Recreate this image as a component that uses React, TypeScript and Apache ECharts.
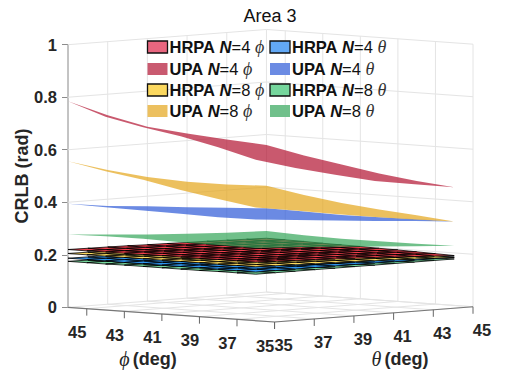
import React, { useEffect, useRef } from "react";
import * as echarts from "echarts";

const titleText = "Area 3";
const yAxisTitle = "CRLB (rad)";
const zTicks = [0, 0.2, 0.4, 0.6, 0.8, 1];
const phiTicks = [35, 37, 39, 41, 43, 45];
const thetaTicks = [35, 37, 39, 41, 43, 45];
const PHI_FAR = 46;

// rows: phi 46 -> 36 (step 2), columns: theta 35 -> 45 (step 2)
const upaRedPhi = [
  [0.785, 0.72, 0.664, 0.627, 0.593, 0.56],
  [0.7357, 0.69, 0.645, 0.605, 0.566, 0.53],
  [0.706, 0.66, 0.618, 0.58, 0.542, 0.506],
  [0.682, 0.635, 0.594, 0.555, 0.518, 0.482],
  [0.65, 0.605, 0.565, 0.53, 0.496, 0.464],
  [0.613, 0.57, 0.532, 0.497, 0.473, 0.45],
];
const upaYellowPhi = [
  [0.556, 0.511, 0.473, 0.443, 0.4215, 0.405],
  [0.528, 0.494, 0.458, 0.43, 0.405, 0.38],
  [0.506, 0.47, 0.438, 0.41, 0.385, 0.36],
  [0.477, 0.445, 0.416, 0.39, 0.367, 0.345],
  [0.453, 0.423, 0.396, 0.372, 0.352, 0.333],
  [0.431, 0.408, 0.383, 0.36, 0.339, 0.32],
];
const upaBlueTheta = [
  [0.394, 0.374, 0.362, 0.3465, 0.3325, 0.319],
  [0.391, 0.376, 0.36, 0.345, 0.331, 0.317],
  [0.389, 0.375, 0.358, 0.344, 0.33, 0.314],
  [0.387, 0.372, 0.357, 0.343, 0.33, 0.315],
  [0.384, 0.369, 0.356, 0.343, 0.33, 0.3176],
  [0.385, 0.372, 0.358, 0.345, 0.333, 0.32],
];
const upaGreenTheta = [
  [0.277, 0.2654, 0.254, 0.2449, 0.2372, 0.2323],
  [0.2805, 0.27, 0.258, 0.247, 0.236, 0.2266],
  [0.281, 0.269, 0.258, 0.247, 0.235, 0.2235],
  [0.2787, 0.268, 0.257, 0.246, 0.235, 0.2243],
  [0.2776, 0.267, 0.257, 0.246, 0.235, 0.225],
  [0.2765, 0.268, 0.258, 0.248, 0.237, 0.227],
];
// rows: phi 46 -> 36 (step 1), columns: theta 35 -> 45 (step 1)
const hrpaRedPhi = [
  [0.22, 0.219, 0.218, 0.217, 0.215, 0.214, 0.212, 0.211, 0.209, 0.207, 0.205],
  [0.22, 0.219, 0.218, 0.216, 0.215, 0.213, 0.212, 0.21, 0.208, 0.206, 0.204],
  [0.221, 0.22, 0.218, 0.216, 0.215, 0.213, 0.211, 0.209, 0.207, 0.205, 0.203],
  [0.221, 0.22, 0.218, 0.216, 0.214, 0.212, 0.21, 0.208, 0.206, 0.204, 0.201],
  [0.221, 0.22, 0.218, 0.216, 0.214, 0.212, 0.21, 0.207, 0.205, 0.203, 0.2],
  [0.222, 0.22, 0.218, 0.216, 0.214, 0.211, 0.209, 0.207, 0.204, 0.201, 0.199],
  [0.222, 0.22, 0.218, 0.216, 0.213, 0.211, 0.208, 0.206, 0.203, 0.2, 0.197],
  [0.222, 0.22, 0.218, 0.215, 0.213, 0.21, 0.208, 0.205, 0.202, 0.199, 0.196],
  [0.223, 0.22, 0.218, 0.215, 0.213, 0.21, 0.207, 0.204, 0.201, 0.198, 0.194],
  [0.223, 0.221, 0.218, 0.215, 0.212, 0.209, 0.206, 0.203, 0.2, 0.196, 0.192],
  [0.223, 0.221, 0.218, 0.215, 0.212, 0.209, 0.206, 0.202, 0.198, 0.194, 0.19],
];
const hrpaYellowPhi = [
  [0.205, 0.204, 0.203, 0.202, 0.2, 0.199, 0.197, 0.196, 0.194, 0.192, 0.19],
  [0.205, 0.204, 0.203, 0.201, 0.2, 0.198, 0.197, 0.195, 0.193, 0.191, 0.189],
  [0.205, 0.204, 0.203, 0.201, 0.2, 0.198, 0.196, 0.194, 0.192, 0.19, 0.188],
  [0.205, 0.204, 0.203, 0.201, 0.199, 0.197, 0.196, 0.194, 0.192, 0.19, 0.188],
  [0.205, 0.204, 0.202, 0.201, 0.199, 0.197, 0.195, 0.193, 0.191, 0.189, 0.187],
  [0.205, 0.204, 0.202, 0.201, 0.199, 0.197, 0.195, 0.193, 0.191, 0.189, 0.186],
  [0.205, 0.204, 0.202, 0.2, 0.198, 0.196, 0.194, 0.192, 0.19, 0.188, 0.186],
  [0.205, 0.204, 0.202, 0.2, 0.198, 0.196, 0.194, 0.192, 0.19, 0.187, 0.185],
  [0.205, 0.203, 0.202, 0.2, 0.198, 0.196, 0.194, 0.191, 0.189, 0.187, 0.184],
  [0.205, 0.203, 0.202, 0.2, 0.198, 0.195, 0.193, 0.191, 0.189, 0.186, 0.184],
  [0.205, 0.203, 0.201, 0.199, 0.197, 0.195, 0.193, 0.191, 0.188, 0.186, 0.183],
];
const hrpaBlueTheta = [
  [0.187, 0.186, 0.186, 0.185, 0.184, 0.183, 0.182, 0.181, 0.18, 0.179, 0.178],
  [0.187, 0.186, 0.186, 0.185, 0.184, 0.183, 0.182, 0.181, 0.18, 0.179, 0.179],
  [0.187, 0.186, 0.186, 0.185, 0.184, 0.184, 0.183, 0.182, 0.181, 0.18, 0.179],
  [0.186, 0.186, 0.186, 0.185, 0.184, 0.184, 0.183, 0.182, 0.181, 0.18, 0.18],
  [0.186, 0.186, 0.185, 0.185, 0.184, 0.184, 0.183, 0.182, 0.182, 0.181, 0.18],
  [0.186, 0.186, 0.185, 0.185, 0.184, 0.184, 0.183, 0.183, 0.182, 0.181, 0.181],
  [0.186, 0.186, 0.185, 0.185, 0.185, 0.184, 0.184, 0.183, 0.182, 0.182, 0.181],
  [0.186, 0.185, 0.185, 0.185, 0.185, 0.184, 0.184, 0.183, 0.183, 0.182, 0.182],
  [0.186, 0.185, 0.185, 0.185, 0.185, 0.184, 0.184, 0.184, 0.183, 0.183, 0.183],
  [0.185, 0.185, 0.185, 0.185, 0.185, 0.184, 0.184, 0.184, 0.184, 0.183, 0.183],
  [0.185, 0.185, 0.185, 0.185, 0.185, 0.185, 0.185, 0.184, 0.184, 0.184, 0.184],
];
const hrpaGreenTheta = [
  [0.175, 0.174, 0.174, 0.173, 0.173, 0.172, 0.172, 0.171, 0.171, 0.17, 0.17],
  [0.175, 0.175, 0.174, 0.174, 0.173, 0.173, 0.172, 0.172, 0.171, 0.171, 0.171],
  [0.175, 0.175, 0.175, 0.174, 0.174, 0.173, 0.173, 0.172, 0.172, 0.171, 0.171],
  [0.176, 0.175, 0.175, 0.174, 0.174, 0.174, 0.173, 0.173, 0.172, 0.172, 0.172],
  [0.176, 0.175, 0.175, 0.175, 0.174, 0.174, 0.174, 0.173, 0.173, 0.173, 0.172],
  [0.176, 0.176, 0.175, 0.175, 0.175, 0.174, 0.174, 0.174, 0.173, 0.173, 0.173],
  [0.176, 0.176, 0.176, 0.175, 0.175, 0.175, 0.174, 0.174, 0.174, 0.174, 0.174],
  [0.176, 0.176, 0.176, 0.176, 0.175, 0.175, 0.175, 0.175, 0.175, 0.175, 0.175],
  [0.177, 0.176, 0.176, 0.176, 0.176, 0.176, 0.175, 0.175, 0.175, 0.175, 0.175],
  [0.177, 0.177, 0.176, 0.176, 0.176, 0.176, 0.176, 0.176, 0.176, 0.176, 0.176],
  [0.177, 0.177, 0.177, 0.177, 0.177, 0.177, 0.177, 0.177, 0.177, 0.177, 0.177],
];

const legendRows = [
  { label: "HRPA", n: "4", sym: "ϕ", color: "#e8667f", border: true, col: 0 },
  { label: "UPA", n: "4", sym: "ϕ", color: "#c95a70", border: false, col: 0 },
  { label: "HRPA", n: "8", sym: "ϕ", color: "#fbd85f", border: true, col: 0 },
  { label: "UPA", n: "8", sym: "ϕ", color: "#ecc05f", border: false, col: 0 },
  { label: "HRPA", n: "4", sym: "θ", color: "#62a8f5", border: true, col: 1 },
  { label: "UPA", n: "4", sym: "θ", color: "#6b8be3", border: false, col: 1 },
  { label: "HRPA", n: "8", sym: "θ", color: "#75d69c", border: true, col: 1 },
  { label: "UPA", n: "8", sym: "θ", color: "#70c08b", border: false, col: 1 },
];

const SANS = "Liberation Sans, Arial, sans-serif";
const SERIF = "Liberation Serif, serif";
const INK = "#262626";

// orthographic view: (theta, phi, z) -> (horizontal axis, CRLB axis)
const proj = (theta: number, phi: number, z: number): [number, number] => {
  const t = (theta - 35) / 10;
  const p = (PHI_FAR - phi) / 11;
  return [0.49 * t + 0.51 * p, z + 0.058 * t - 0.056 * p];
};

type Seg = [number, number, number, number, number, number];
const wallSegs: Seg[] = [];
zTicks.forEach((z) => {
  wallSegs.push([35, PHI_FAR, z, 45, PHI_FAR, z]);
  wallSegs.push([45, PHI_FAR, z, 45, 35, z]);
});
thetaTicks.forEach((t) => {
  wallSegs.push([t, PHI_FAR, 0, t, PHI_FAR, 1]);
  wallSegs.push([t, PHI_FAR, 0, t, 35, 0]);
});
phiTicks.forEach((p) => {
  wallSegs.push([45, p, 0, 45, p, 1]);
  wallSegs.push([45, p, 0, 35, p, 0]);
});

const gridSeries = () => ({
  type: "custom",
  coordinateSystem: "cartesian2d",
  clip: false,
  silent: true,
  z: 1,
  data: wallSegs.map((_, i) => [i, 0]),
  renderItem: (params: any, api: any) => {
    const s = wallSegs[params.dataIndex];
    const a = api.coord(proj(s[0], s[1], s[2]));
    const b = api.coord(proj(s[3], s[4], s[5]));
    return {
      type: "line",
      shape: { x1: a[0], y1: a[1], x2: b[0], y2: b[1] },
      style: { stroke: "#e4e4e4", lineWidth: 1, fill: "none" },
    };
  },
});

// floor axes with their ticks and labels
type AxisTick = { theta: number; phi: number; label: string; dx: number; dy: number };
const axisTicks: AxisTick[] = [
  ...phiTicks.map((p) => ({ theta: 35, phi: p, label: String(p), dx: -9.5, dy: 23.5 })),
  ...thetaTicks.map((t) => ({ theta: t, phi: 35, label: String(t), dx: 9, dy: 23 })),
];
const axisSeries = () => ({
  type: "custom",
  coordinateSystem: "cartesian2d",
  clip: false,
  silent: true,
  z: 3,
  data: axisTicks.map((_, i) => [i, 0]),
  renderItem: (params: any, api: any) => {
    const k = axisTicks[params.dataIndex];
    const c = api.coord(proj(k.theta, k.phi, 0));
    const children: any[] = [
      {
        type: "line",
        shape: { x1: c[0], y1: c[1], x2: c[0], y2: c[1] + 7 },
        style: { stroke: "#666", lineWidth: 1 },
      },
      {
        type: "text",
        x: c[0] + k.dx,
        y: c[1] + k.dy,
        style: {
          text: k.label,
          align: "center",
          verticalAlign: "middle",
          fontFamily: SANS,
          fontWeight: "bold",
          fontSize: 16.5,
          fill: INK,
        },
      },
    ];
    if (params.dataIndex === 0) {
      const l = api.coord(proj(35, PHI_FAR, 0));
      const m = api.coord(proj(35, 35, 0));
      const r = api.coord(proj(45, 35, 0));
      children.unshift({
        type: "polyline",
        shape: { points: [l, m, r] },
        style: { stroke: "#777", lineWidth: 1.2, fill: "none" },
      });
    }
    return { type: "group", children };
  },
});

const meshSeries = (rows: number[][], fill: string, z: number) => {
  const cells: [number, number][] = [];
  for (let i = 0; i < rows.length - 1; i++)
    for (let j = 0; j < rows[0].length - 1; j++) cells.push([i, j]);
  const pt = (api: any, i: number, j: number) =>
    api.coord(proj(35 + j, PHI_FAR - i, rows[i][j]));
  return {
    type: "custom",
    coordinateSystem: "cartesian2d",
    clip: false,
    silent: true,
    z,
    data: cells,
    renderItem: (params: any, api: any) => {
      const [i, j] = cells[params.dataIndex];
      return {
        type: "polygon",
        shape: { points: [pt(api, i, j), pt(api, i, j + 1), pt(api, i + 1, j + 1), pt(api, i + 1, j)] },
        style: { fill, stroke: "#000", lineWidth: 0.8 },
      };
    },
  };
};

const sheetSeries = (rows: number[][], fill: string, z: number) => {
  const n = rows.length - 1;
  const pt = (api: any, i: number, j: number) =>
    api.coord(proj(35 + 2 * j, PHI_FAR - 2 * i, rows[i][j]));
  return {
    type: "custom",
    coordinateSystem: "cartesian2d",
    clip: false,
    silent: true,
    z,
    data: [[0, 0]],
    renderItem: (_: any, api: any) => {
      const pts: number[][] = [];
      for (let j = 0; j <= n; j++) pts.push(pt(api, 0, j));
      for (let i = 1; i <= n; i++) pts.push(pt(api, i, n));
      for (let j = n - 1; j >= 0; j--) pts.push(pt(api, n, j));
      for (let i = n - 1; i > 0; i--) pts.push(pt(api, i, 0));
      return {
        type: "polygon",
        shape: { points: pts },
        style: { fill, opacity: 0.7 },
      };
    },
  };
};

const richFor = (size: number) => ({
  b: { fontFamily: SANS, fontWeight: "bold", fontSize: size, fill: "#111" },
  i: { fontFamily: SANS, fontWeight: "bold", fontStyle: "italic", fontSize: size, fill: "#111" },
  r: { fontFamily: SANS, fontSize: size, fill: "#111" },
  g: { fontFamily: SERIF, fontStyle: "italic", fontSize: size + 1.5, fill: "#333" },
});

const legendGraphics = () => {
  const ys = [47, 69, 90, 111];
  const out: any[] = [];
  legendRows.forEach((row, k) => {
    const y = ys[k % 4];
    const x0 = row.col === 0 ? 147.5 : 270;
    out.push({
      type: "rect",
      z: 100,
      shape: { x: x0, y: y - 6, width: 20, height: 12 },
      style: row.border
        ? { fill: row.color, stroke: "#111", lineWidth: 1.3 }
        : { fill: row.color },
    });
    out.push({
      type: "text",
      z: 100,
      x: x0 + 22,
      y,
      style: {
        text: `{b|${row.label} }{i|N}{r|=${row.n} }{g|${row.sym}}`,
        rich: richFor(16.5),
        verticalAlign: "middle",
      },
    });
  });
  return out;
};

const axisTitleRich = {
  g: { fontFamily: SERIF, fontStyle: "italic", fontSize: 20, lineHeight: 20, fill: INK },
  b: { fontFamily: SANS, fontWeight: "bold", fontSize: 18, lineHeight: 20, fill: INK },
};

const App = () => {
  const ref = useRef<HTMLDivElement>(null);
  useEffect(() => {
    const chart = echarts.init(ref.current!, null, { renderer: "svg" });
    chart.setOption({
      animation: false,
      backgroundColor: "#fff",
      grid: { left: 68, width: 405, top: 44.7, height: 262.6, containLabel: false },
      xAxis: { type: "value", min: 0, max: 1, show: false },
      yAxis: {
        type: "value",
        min: 0,
        max: 1,
        interval: 0.2,
        axisLine: { show: true, lineStyle: { color: "#8c8c8c", width: 1.6 } },
        axisTick: { show: true, length: 6, lineStyle: { color: "#8c8c8c", width: 1 } },
        splitLine: { show: false },
        axisLabel: {
          fontFamily: SANS,
          fontWeight: "bold",
          fontSize: 16.5,
          color: INK,
          margin: 11,
          formatter: (v: number) => String(v),
        },
      },
      series: [
        gridSeries(),
        meshSeries(hrpaGreenTheta, "#75d69c", 4),
        meshSeries(hrpaBlueTheta, "#2f95f0", 5),
        meshSeries(hrpaYellowPhi, "#fbd85f", 6),
        meshSeries(hrpaRedPhi, "#ee3f4c", 7),
        sheetSeries(upaGreenTheta, "#33a559", 8),
        sheetSeries(upaBlueTheta, "#2c59d7", 9),
        sheetSeries(upaYellowPhi, "#e4a51a", 10),
        sheetSeries(upaRedPhi, "#b21330", 11),
        axisSeries(),
      ],
      graphic: [
        {
          type: "text",
          z: 100,
          x: 270,
          y: 16,
          style: {
            text: titleText,
            align: "center",
            verticalAlign: "middle",
            fontFamily: SANS,
            fontSize: 18,
            fill: "#111",
          },
        },
        {
          type: "text",
          z: 100,
          x: 21.5,
          y: 176,
          rotation: Math.PI / 2,
          style: {
            text: yAxisTitle,
            align: "center",
            verticalAlign: "middle",
            fontFamily: SANS,
            fontWeight: "bold",
            fontSize: 18,
            fill: INK,
          },
        },
        {
          type: "text",
          z: 100,
          x: 148,
          y: 358.5,
          style: {
            text: "{g|ϕ} {b|(deg)}",
            align: "center",
            verticalAlign: "middle",
            rich: axisTitleRich,
          },
        },
        {
          type: "text",
          z: 100,
          x: 400,
          y: 358.5,
          style: {
            text: "{g|θ} {b|(deg)}",
            align: "center",
            verticalAlign: "middle",
            rich: axisTitleRich,
          },
        },
        ...legendGraphics(),
      ],
    });
    return () => chart.dispose();
  }, []);
  return (
    <div
      ref={ref}
      style={{ position: "absolute", left: 0, top: 0, width: 523, height: 370 }}
    />
  );
};

export default App;
